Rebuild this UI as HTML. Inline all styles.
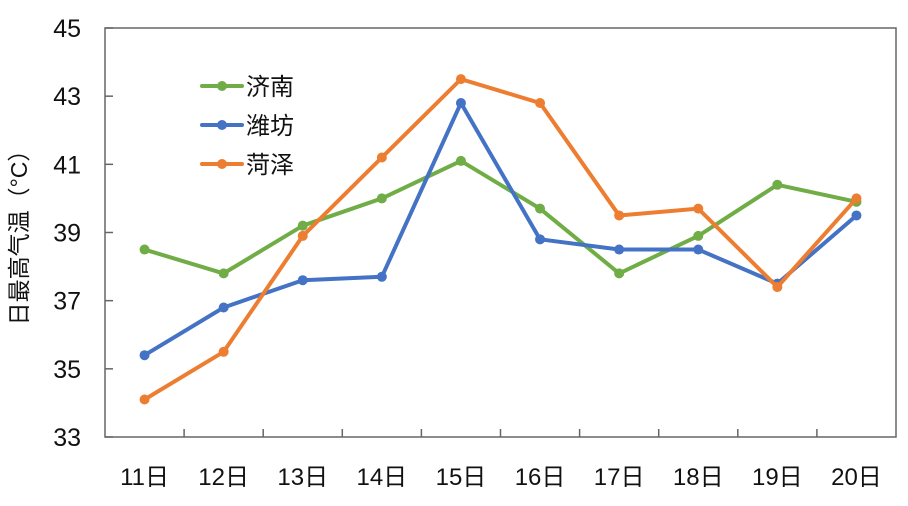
<!DOCTYPE html>
<html><head><meta charset="utf-8"><style>
body{margin:0;background:#fff;}
svg text{font-family:"Liberation Sans","Noto Sans CJK SC",sans-serif;fill:#111;}
</style></head><body>
<svg id="c" width="908" height="501"></svg>
<script>
const categories=["11日","12日","13日","14日","15日","16日","17日","18日","19日","20日"];
const jinan=[38.5,37.8,39.2,40.0,41.1,39.7,37.8,38.9,40.4,39.9];
const weifang=[35.4,36.8,37.6,37.7,42.8,38.8,38.5,38.5,37.5,39.5];
const heze=[34.1,35.5,38.9,41.2,43.5,42.8,39.5,39.7,37.4,40.0];
const yTicks=[33,35,37,39,41,43,45];
const seriesNames=["济南","潍坊","菏泽"];
const NS="http://www.w3.org/2000/svg";
const svg=document.getElementById('c');
const L=105,R=896,T=28,B=437,yMin=33,yMax=45;
const bw=(R-L)/categories.length;
const x=i=>L+bw*(i+0.5);
const y=v=>B-(v-yMin)/(yMax-yMin)*(B-T);
function mk(tag,attrs,parent){const e=document.createElementNS(NS,tag);for(const k in attrs)e.setAttribute(k,attrs[k]);(parent||svg).appendChild(e);return e;}
const frame=mk('rect',{x:L,y:T,width:R-L,height:B-T,fill:'none',stroke:'#666','stroke-width':1.5});


yTicks.forEach(t=>{
  const tk=mk('line',{x1:L,x2:L+8,y1:y(t),y2:y(t),stroke:'#666','stroke-width':1.5});
  
  
  const lb=mk('text',{x:81,y:y(t)+9,'text-anchor':'end','font-size':25});
  lb.textContent=t;
  
  
});
categories.forEach((c,i)=>{
  if(i>0){const tk=mk('line',{x1:L+bw*i,x2:L+bw*i,y1:B,y2:B-8,stroke:'#666','stroke-width':1.5});
  
  }
  const lb=mk('text',{x:x(i),y:485,'text-anchor':'middle','font-size':24});
  lb.textContent=c;
  
  
});
const yt=mk('text',{x:0,y:0,'text-anchor':'middle','font-size':23,transform:'translate(27,232) rotate(-90)'});
yt.textContent='日最高气温（°C）';


const colors=['#70ad47','#4472c4','#ed7d31'];
[jinan,weifang,heze].forEach((d,s)=>{
  const g=mk('g',{});
  
  
  const pl=mk('polyline',{points:d.map((v,i)=>x(i)+','+y(v)).join(' '),fill:'none',stroke:colors[s],'stroke-width':4,'stroke-linejoin':'round'},g);
  
  
  d.forEach((v,i)=>{const p=mk('circle',{cx:x(i),cy:y(v),r:5,fill:colors[s]},g);
    
    });
  const ly=86+s*39;
  const lg=mk('g',{});
  
  
  mk('line',{x1:202,x2:242,y1:ly,y2:ly,stroke:colors[s],'stroke-width':4,'stroke-linecap':'round'},lg);
  mk('circle',{cx:222,cy:ly,r:5,fill:colors[s]},lg);
  const t=mk('text',{x:246,y:ly+9,'font-size':24},lg);
  t.textContent=seriesNames[s];
});
</script>
</body></html>
